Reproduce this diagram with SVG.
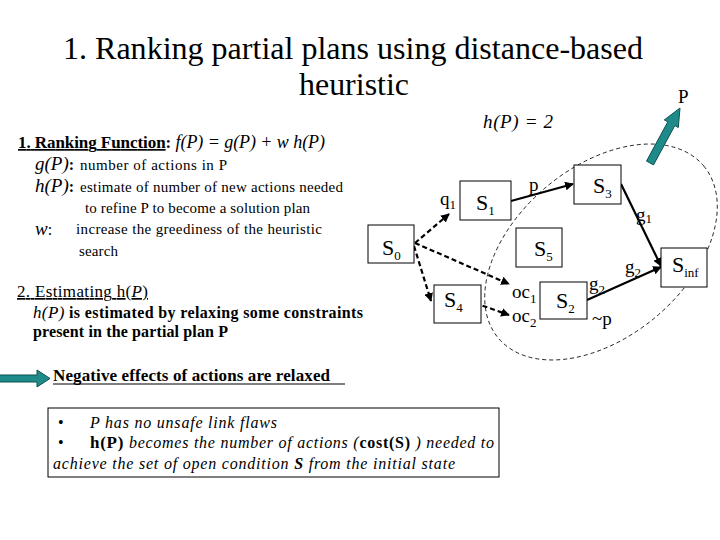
<svg xmlns="http://www.w3.org/2000/svg" width="720" height="540" viewBox="0 0 720 540" font-family="'Liberation Serif', 'Times New Roman', 'DejaVu Serif', serif">
<style>
text{font-family:"Liberation Serif","Times New Roman","DejaVu Serif",serif;fill:#000}
.title{font-size:32px}
.h{font-size:16px}
.h17{font-size:17px}
.sm{font-size:15px}
.it{font-style:italic}
.b{font-weight:bold}
.u{text-decoration:underline}
.node rect{fill:#fff;stroke:#000;stroke-width:1}
.nl{font-size:22px}
.sub{font-size:13px}
.el{font-size:19px}
.dash{stroke:#000;stroke-width:2.2;stroke-dasharray:5 3;fill:none}
.solid{stroke:#000;stroke-width:2.2;fill:none}
.teal{fill:#1e8a8a;stroke:#0f5050;stroke-width:1}
</style>
<defs>
<marker id="ah" viewBox="0 0 10 10" refX="9" refY="5" markerWidth="4" markerHeight="4" orient="auto" markerUnits="strokeWidth">
<path d="M0,0 L10,5 L0,10 z" fill="#000"/>
</marker>
</defs>
<rect width="720" height="540" fill="#fff"/>

<g id="title">
<text class="title" x="353" y="59" text-anchor="middle" textLength="580" lengthAdjust="spacingAndGlyphs">1. Ranking partial plans using distance-based</text>
<text class="title" x="354" y="95" text-anchor="middle" textLength="110" lengthAdjust="spacingAndGlyphs">heuristic</text>
</g>

<g id="ranking">
<text class="h17" x="18" y="148" textLength="307"><tspan class="b u">1. Ranking Function</tspan><tspan class="b">:</tspan><tspan class="it" font-size="18px"> f(P) = g(P) + w h(P)</tspan></text>
<text x="35" y="170"><tspan class="it" font-size="19px">g(P)</tspan><tspan class="b" font-size="16px">:</tspan></text>
<text class="sm" x="80" y="170" textLength="147">number of actions in P</text>
<text x="35" y="192"><tspan class="it" font-size="19px">h(P)</tspan><tspan class="b" font-size="16px">:</tspan></text>
<text class="sm" x="80" y="192" textLength="263">estimate of number of new actions needed</text>
<text class="sm" x="85" y="213" textLength="225">to refine P to become a solution plan</text>
<text class="it" font-size="19px" x="35" y="235">w<tspan font-style="normal" font-size="16px">:</tspan></text>
<text class="sm" x="76" y="234" textLength="246">increase the greediness of the heuristic</text>
<text class="sm" x="79" y="256" textLength="39">search</text>
</g>

<g id="estimating">
<text class="h17 u" x="17" y="297" textLength="131">2. Estimating h(<tspan class="it">P</tspan>)</text>
<text class="h b" x="33" y="318" textLength="330"><tspan class="it" font-weight="normal" font-size="17px">h(P)</tspan> is estimated by relaxing some constraints</text>
<text class="h b" x="33" y="337" textLength="195">present in the partial plan P</text>
</g>

<g id="negative">
<polygon class="teal" points="-2,375 37,375 37,370 50,378.5 37,387 37,382 -2,382"/>
<text class="h17 b" x="53" y="381" textLength="277">Negative effects of actions are relaxed</text>
<line x1="53" y1="384" x2="345" y2="384" stroke="#000" stroke-width="1.2"/>
</g>

<g id="box">
<rect x="48" y="408" width="451" height="69" fill="#fff" stroke="#000" stroke-width="1"/>
<text class="h" x="58" y="428">•</text>
<text class="h it" x="90" y="428" textLength="187">P has no unsafe link flaws</text>
<text class="h" x="58" y="448">•</text>
<text class="h" x="90" y="448" textLength="404"><tspan class="b" font-size="17px">h(P)</tspan><tspan class="it"> becomes the number of actions (</tspan><tspan class="b">cost(S)</tspan><tspan class="it"> ) needed to</tspan></text>
<text class="h it" x="53" y="469" textLength="402">achieve the set of open condition <tspan class="b">S</tspan> from the initial state</text>
</g>

<g id="hp2">
<text class="it" font-size="19px" x="483" y="128" textLength="70">h(P) = 2</text>
</g>

<g id="region">
<ellipse cx="601" cy="252" rx="134" ry="85" transform="rotate(-40 601 252)" fill="none" stroke="#000" stroke-width="0.8" stroke-dasharray="4 3"/>
</g>

<g id="pointer-P">
<polygon class="teal" points="646.5,161.1 667.8,121.8 664.3,119.9 680,108 678.3,127.5 674.8,125.6 653.5,164.9"/>
<text font-size="19px" x="678" y="103">P</text>
</g>

<g id="connectors">
<line class="dash" x1="415" y1="243" x2="449" y2="214" marker-end="url(#ah)"/>
<line class="dash" x1="415" y1="243" x2="509" y2="284" marker-end="url(#ah)"/>
<line class="dash" x1="414" y1="246" x2="431" y2="301" marker-end="url(#ah)"/>
<line class="dash" x1="475" y1="303" x2="509" y2="315" marker-end="url(#ah)"/>
<line class="solid" x1="511" y1="201" x2="573" y2="184" marker-end="url(#ah)"/>
<line class="solid" x1="621" y1="184" x2="661" y2="266" marker-end="url(#ah)"/>
<line class="solid" x1="587" y1="300" x2="661" y2="267" marker-end="url(#ah)"/>
</g>

<g id="edge-labels">
<text class="el" x="440" y="205">q<tspan class="sub" dy="4">1</tspan></text>
<text class="el" x="529" y="191">p</text>
<text class="el" x="636" y="221">g<tspan class="sub" dy="2">1</tspan></text>
<text class="el" x="625" y="273">g<tspan class="sub" dy="4">2</tspan></text>
<text class="el" x="589" y="290">g<tspan class="sub" dy="4">2</tspan></text>
<text class="el" x="512" y="298">oc<tspan class="sub" dy="5">1</tspan></text>
<text class="el" x="512" y="322">oc<tspan class="sub" dy="5">2</tspan></text>
<text class="el" x="592" y="325">~p</text>
</g>

<g id="S0" class="node"><rect x="368" y="225" width="46" height="38"/><text class="nl" x="382" y="255">S<tspan class="sub" dy="5">0</tspan></text></g>
<g id="S1" class="node"><rect x="460" y="181" width="51" height="39"/><text class="nl" x="476" y="210">S<tspan class="sub" dy="5">1</tspan></text></g>
<g id="S3" class="node"><rect x="574" y="165" width="47" height="39"/><text class="nl" x="593" y="193">S<tspan class="sub" dy="5">3</tspan></text></g>
<g id="S5" class="node"><rect x="516" y="228" width="46" height="39"/><text class="nl" x="534" y="256">S<tspan class="sub" dy="5">5</tspan></text></g>
<g id="S4" class="node"><rect x="434" y="285" width="47" height="38"/><text class="nl" x="444" y="307">S<tspan class="sub" dy="5">4</tspan></text></g>
<g id="S2" class="node"><rect x="540" y="282" width="47" height="37"/><text class="nl" x="556" y="308">S<tspan class="sub" dy="5">2</tspan></text></g>
<g id="Sinf" class="node"><rect x="661" y="248" width="46" height="39"/><text class="nl" x="672" y="272">S<tspan class="sub" dy="5">inf</tspan></text></g>
</svg>
